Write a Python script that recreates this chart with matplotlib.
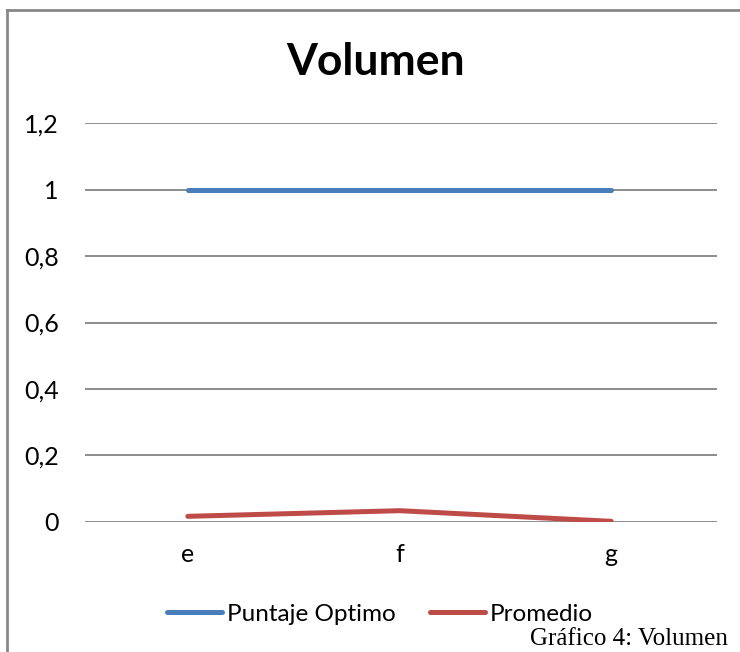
import matplotlib.pyplot as plt
from matplotlib.lines import Line2D

categorias = ['e', 'f', 'g']
puntaje_optimo = [1, 1, 1]
promedio = [0.017, 0.034, 0.002]
yticks = [0, 0.2, 0.4, 0.6, 0.8, 1, 1.2]
ytick_labels = ['0', '0,2', '0,4', '0,6', '0,8', '1', '1,2']

plt.rcParams['font.family'] = ['Lato', 'DejaVu Sans']

fig = plt.figure(figsize=(7.4, 6.52), dpi=100)
ax = fig.add_axes([0.115, 0.1994, 0.854, 0.6119])

x = range(len(categorias))
ax.plot(x, puntaje_optimo, color='#4A7EBB', linewidth=3.6, solid_capstyle='round', label='Puntaje Optimo', zorder=3)
ax.plot(x, promedio, color='#BE4B48', linewidth=3.6, solid_capstyle='round', label='Promedio', zorder=3)

ax.set_xlim(-0.485, 2.5)
ax.set_ylim(0, 1.2)
ax.set_yticks(yticks)
ax.set_yticklabels(ytick_labels)
ax.set_xticks(list(x))
ax.set_xticklabels(categorias)
ax.tick_params(axis='y', length=0, pad=19, labelsize=18)
ax.tick_params(axis='x', length=0, pad=15, labelsize=18)
ax.grid(axis='y', color='#8c8c8c', linewidth=1.4)
ax.set_axisbelow(True)
for s in ax.spines.values():
    s.set_visible(False)

fig.text(375.5 / 740, 1 - 62 / 652, 'Volumen', ha='center', va='center', fontsize=32, fontweight='bold')

ax.legend(loc='center', bbox_to_anchor=(380 / 740, 1 - 614 / 652), bbox_transform=fig.transFigure,
          ncol=2, frameon=False, fontsize=17.5, handlelength=2.25, handletextpad=0.2,
          columnspacing=1.4)

# pie de figura
fig.text(530 / 740, 2 / 652, 'Gráfico 4: Volumen', ha='left', va='bottom',
         fontsize=18, family=['Liberation Serif', 'DejaVu Serif'])

# marco del grafico
fig.add_artist(Line2D([7 / 740, 1], [1 - 10 / 652] * 2, color='#888888', linewidth=2, transform=fig.transFigure))
fig.add_artist(Line2D([7 / 740] * 2, [0, 1 - 10 / 652], color='#888888', linewidth=2, transform=fig.transFigure))

fig.savefig('out.png', dpi=100)
